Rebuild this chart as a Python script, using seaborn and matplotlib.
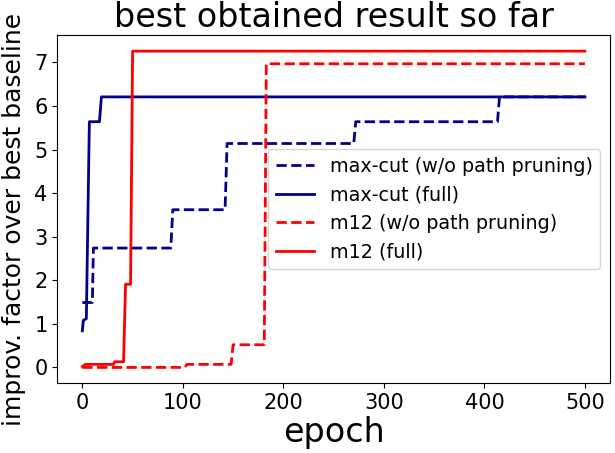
import matplotlib
matplotlib.use("Agg")
import matplotlib.pyplot as plt
import seaborn as sns
import pandas as pd

# vertices (epoch, value)
maxcut_nopp_x = [0, 10, 11, 88, 90, 142, 144, 270, 272, 413, 415, 500]
maxcut_nopp_y = [1.49, 1.49, 2.74, 2.74, 3.62, 3.62, 5.14, 5.14, 5.64, 5.64, 6.21, 6.21]

maxcut_full_x = [0, 1, 4, 7, 17, 19, 500]
maxcut_full_y = [0.84, 1.08, 1.12, 5.64, 5.64, 6.21, 6.21]

m12_nopp_x = [0, 102, 104, 148, 150, 181, 183, 500]
m12_nopp_y = [0.0, 0.0, 0.07, 0.07, 0.52, 0.52, 6.97, 6.97]

m12_full_x = [0, 3, 31, 32, 41, 43, 48, 50, 500]
m12_full_y = [0.02, 0.07, 0.07, 0.13, 0.13, 1.91, 1.91, 7.26, 7.26]

labels = ["max-cut (w/o path pruning)", "max-cut (full)",
          "m12 (w/o path pruning)", "m12 (full)"]

series = [
    (maxcut_nopp_x, maxcut_nopp_y, labels[0], "darkblue", "--"),
    (maxcut_full_x, maxcut_full_y, labels[1], "darkblue", "-"),
    (m12_nopp_x, m12_nopp_y, labels[2], "red", "--"),
    (m12_full_x, m12_full_y, labels[3], "red", "-"),
]

fig = plt.figure(figsize=(6.15, 4.53), dpi=100)
ax = fig.add_axes([0.093, 0.154, 0.899, 0.768])

for xs, ys, lab, col, ls in series:
    df = pd.DataFrame({"epoch": xs, "val": ys})
    sns.lineplot(data=df, x="epoch", y="val", ax=ax, color=col,
                 linestyle=ls, linewidth=2, label=lab, estimator=None, sort=False)

ax.set_title("best obtained result so far", fontsize=24)
ax.set_xlabel("epoch", fontsize=24, labelpad=2)
ax.set_ylabel("improv. factor over best baseline", fontsize=18)
ax.yaxis.set_label_coords(-0.056, 0.47)
ax.tick_params(labelsize=15)
ax.set_xticks([0, 100, 200, 300, 400, 500])
ax.set_yticks(range(0, 8))
ax.legend(loc="center right", fontsize=13.8)

fig.savefig("out.png", dpi=100)
